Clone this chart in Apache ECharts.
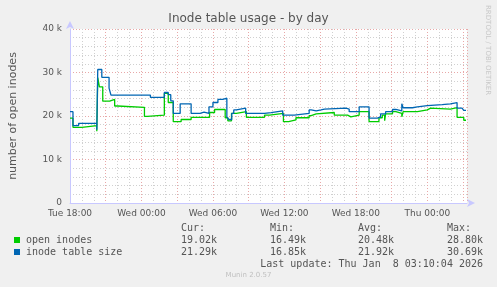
<!DOCTYPE html>
<html><head><meta charset="utf-8">
<script src="https://cdn.jsdelivr.net/npm/echarts@6/dist/echarts.min.js"></script>
<style>html,body{margin:0;padding:0;background:#f0f0f0}#c{width:497px;height:287px}</style>
</head><body><div id="c"></div>
<script>
// hours after Tue 18:00 where a value starts, and the value (inodes)
const openHours = [0,0.25,1.0,2.25,2.33,2.47,2.75,3.33,3.75,4.0,6.25,6.5,7.92,8.25,8.67,9.33,10.17,11.72,12.14,13.03,13.25,13.56,13.97,14.81,16.33,16.75,16.89,17.92,18.36,18.97,20.08,20.25,20.67,22.19,23.31,23.58,24.28,25.11,25.94,26.22,26.42,26.5,27.08,27.36,27.86,27.97,29.17,30.0,30.28,31.94,32.5,33.06,33.25];
const openValues = [19500,17400,17800,16490,28800,26700,23400,23800,22300,22000,19900,20200,25200,23100,18700,19200,19700,20800,21500,19600,18900,20600,21000,19700,20200,19900,20600,18700,19100,19600,20100,20500,20800,20200,19800,20200,21000,18700,19600,20200,18900,20500,21000,20600,19800,21000,21400,21800,21600,21900,19700,19020,19020];
const sizeHours = [0,0.25,0.72,2.25,2.33,2.67,3.28,3.44,6.75,7.92,8.25,8.46,8.67,9.25,10.17,10.92,11.25,11.67,12.0,12.42,12.83,13.17,13.33,13.58,13.75,13.97,14.75,16.33,16.89,17.86,18.83,20.08,20.25,20.67,21.08,21.36,23.17,23.44,24.28,25.11,25.81,26.08,26.5,27.08,27.36,27.86,27.97,28.75,29.17,30.0,31.25,31.94,32.5,32.92,33.06,33.25];
const sizeValues = [21000,17800,18300,16850,30690,28900,26400,24800,24300,25400,24900,23500,20600,22800,20600,20900,20600,22100,23100,23800,24100,19800,19200,20600,21400,21800,20600,20800,21200,20200,20600,21400,21200,21400,21600,21800,21600,21000,22100,19500,19800,20500,21000,21500,21200,22800,21900,22100,22400,22600,22800,23100,21800,21900,21290,21290];
const xTickLabels = ['Tue 18:00','Wed 00:00','Wed 06:00','Wed 12:00','Wed 18:00','Thu 00:00'];
const seriesNames = ['open inodes','inode table size'];
const seriesColors = ['#00cc00','#0066b3'];
const statHeaders = ['Cur:','Min:','Avg:','Max:'];
const openStats = ['19.02k','16.49k','20.48k','28.80k'];
const sizeStats = ['21.29k','16.85k','21.92k','30.69k'];
const lastUpdate = 'Last update: Thu Jan  8 03:10:04 2026';

const chart = echarts.init(document.getElementById('c'), null, {renderer:'canvas'});
const pair = (h, v) => h.map((x, i) => [x, v[i]]);
const mono = 'DejaVu Sans Mono';
const statX = [181, 270, 358, 447];
const graphic = [];
graphic.push({type:'text', left:'center', top:13, style:{text:'Inode table usage - by day', font:'12px "DejaVu Sans"', fill:'#555'}});
graphic.push({type:'text', x:491, y:5, rotation:-Math.PI/2, style:{text:'RRDTOOL / TOBI OETIKER', font:'7px "DejaVu Sans"', fill:'#c8c8c8'}});
statHeaders.forEach((t,i)=>graphic.push({type:'text', x:statX[i], y:223, style:{text:t, font:'10px '+mono, fill:'#555'}}));
[openStats, sizeStats].forEach((arr, r) => {
  graphic.push({type:'rect', shape:{x:14, y:237 + r*12, width:6, height:6}, style:{fill:seriesColors[r]}});
  graphic.push({type:'text', x:26, y:235 + r*12, style:{text:seriesNames[r], font:'10px '+mono, fill:'#555'}});
  arr.forEach((t,i)=>graphic.push({type:'text', x:statX[i], y:235 + r*12, style:{text:t, font:'10px '+mono, fill:'#555'}}));
});
graphic.push({type:'text', x:483, y:259, style:{text:lastUpdate, font:'10px '+mono, fill:'#555', align:'right'}});
graphic.push({type:'text', left:'center', top:272, style:{text:'Munin 2.0.57', font:'7px "DejaVu Sans"', fill:'#c0c0c0'}});

chart.setOption({
  backgroundColor:'#f0f0f0',
  animation:false,
  grid:{left:67, right:30, top:29, bottom:84, show:true, backgroundColor:'#ffffff', borderWidth:0},
  xAxis:{type:'value', min:0, max:33.3333, interval:3,
    axisLine:{show:true, onZero:false, lineStyle:{color:'#c8c8ff', width:1}, symbol:['none','arrow'], symbolSize:[6,8], symbolOffset:[0,8]},
    axisTick:{show:false},
    axisLabel:{fontFamily:'DejaVu Sans', fontSize:9, color:'#555', margin:6, showMaxLabel:false,
      formatter:(v)=>{ const k=Math.round(v); return (k%6===0) ? (xTickLabels[k/6]||'') : ''; }},
    splitLine:{show:true, lineStyle:{color:'#e8a8a8', type:[1,2], width:1}},
    minorTick:{show:false, splitNumber:3},
    minorSplitLine:{show:true, lineStyle:{color:'#d0d0d0', type:[1,2], width:1}}
  },
  yAxis:{type:'value', min:0, max:40000, interval:10000,
    name:'number of open inodes', nameLocation:'middle', nameGap:51, nameTextStyle:{fontFamily:'DejaVu Sans', fontSize:11, color:'#555'},
    axisLine:{show:true, lineStyle:{color:'#c8c8ff', width:1}, symbol:['none','arrow'], symbolSize:[6,8], symbolOffset:[0,8]},
    axisTick:{show:false},
    axisLabel:{fontFamily:'DejaVu Sans', fontSize:9, color:'#555', margin:8,
      formatter:(v)=> v===0 ? '0' : (v/1000)+' k'},
    splitLine:{show:true, lineStyle:{color:'#e8a8a8', type:[1,2], width:1}},
    minorTick:{show:false, splitNumber:5},
    minorSplitLine:{show:true, lineStyle:{color:'#d0d0d0', type:[1,2], width:1}}
  },
  series:[
    {name:seriesNames[0], type:'line', step:'end', showSymbol:false, data:pair(openHours, openValues), lineStyle:{color:seriesColors[0], width:1.3}, itemStyle:{color:seriesColors[0]}, z:3},
    {name:seriesNames[1], type:'line', step:'end', showSymbol:false, data:pair(sizeHours, sizeValues), lineStyle:{color:seriesColors[1], width:1.3}, itemStyle:{color:seriesColors[1]}, z:4}
  ],
  graphic:graphic
});
</script></body></html>
